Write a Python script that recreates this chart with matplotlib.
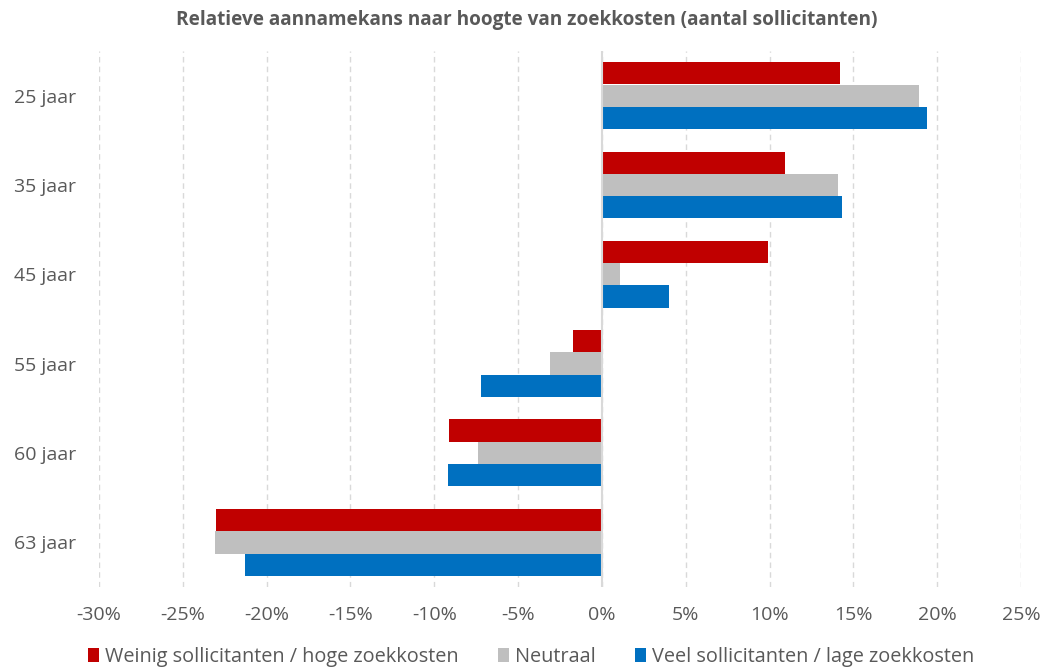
import matplotlib
matplotlib.use("Agg")
import matplotlib.pyplot as plt
from matplotlib.patches import Patch
from matplotlib.ticker import FuncFormatter, MultipleLocator
import numpy as np

plt.rcParams['font.family'] = ['Open Sans', 'DejaVu Sans']

categories = ["25 jaar", "35 jaar", "45 jaar", "55 jaar", "60 jaar", "63 jaar"]
series_names = [
    "Weinig sollicitanten / hoge zoekkosten",
    "Neutraal",
    "Veel sollicitanten / lage zoekkosten",
]
weinig = [0.142, 0.109, 0.099, -0.017, -0.091, -0.230]
neutraal = [0.189, 0.141, 0.011, -0.031, -0.074, -0.231]
veel = [0.194, 0.143, 0.040, -0.072, -0.092, -0.213]
colors = ["#C00000", "#BFBFBF", "#0070C0"]

text_color = "#595959"
grid_color = "#D9D9D9"

fig = plt.figure(figsize=(10.44, 6.68), dpi=100)
ax = fig.add_axes([99 / 1044, 1 - 587 / 668, (1021 - 99) / 1044, (587 - 51) / 668])

y = np.arange(len(categories))
bar_h = 0.25
for i, (vals, name, col) in enumerate(zip([weinig, neutraal, veel], series_names, colors)):
    ax.barh(y + (i - 1) * bar_h, vals, height=bar_h, color=col, label=name, zorder=3)

ax.set_xlim(-0.30, 0.25)
ax.set_ylim(len(categories) - 0.5, -0.5)
ax.xaxis.set_major_locator(MultipleLocator(0.05))
ax.xaxis.set_major_formatter(FuncFormatter(lambda v, p: f"{round(v * 100):d}%"))
ax.set_yticks(y)
ax.set_yticklabels(categories)

ax.grid(axis="x", color=grid_color, linewidth=1.0, linestyle=(0, (4, 3)), zorder=0)
ax.axvline(0, color=grid_color, linewidth=1.5, zorder=4)
for s in ax.spines.values():
    s.set_visible(False)

ax.tick_params(axis="both", length=0, labelsize=14, labelcolor=text_color)
ax.tick_params(axis="x", pad=14)
ax.tick_params(axis="y", pad=16.5)

fig.suptitle("Relatieve aannamekans naar hoogte van zoekkosten (aantal sollicitanten)",
             x=527 / 1044, y=1 - 20 / 668, va="center", fontsize=13.7,
             fontweight="bold", color=text_color)

handles = [Patch(facecolor=c, edgecolor="none") for c in colors]
leg = fig.legend(handles, series_names, loc="center", bbox_to_anchor=(531 / 1044, 1 - 657 / 668),
                 ncol=3, frameon=False, fontsize=14.3, handlelength=0.55, handleheight=0.75,
                 handletextpad=0.3, columnspacing=2.0, borderaxespad=0)
for t in leg.get_texts():
    t.set_color(text_color)

fig.savefig("out.png", dpi=100)
